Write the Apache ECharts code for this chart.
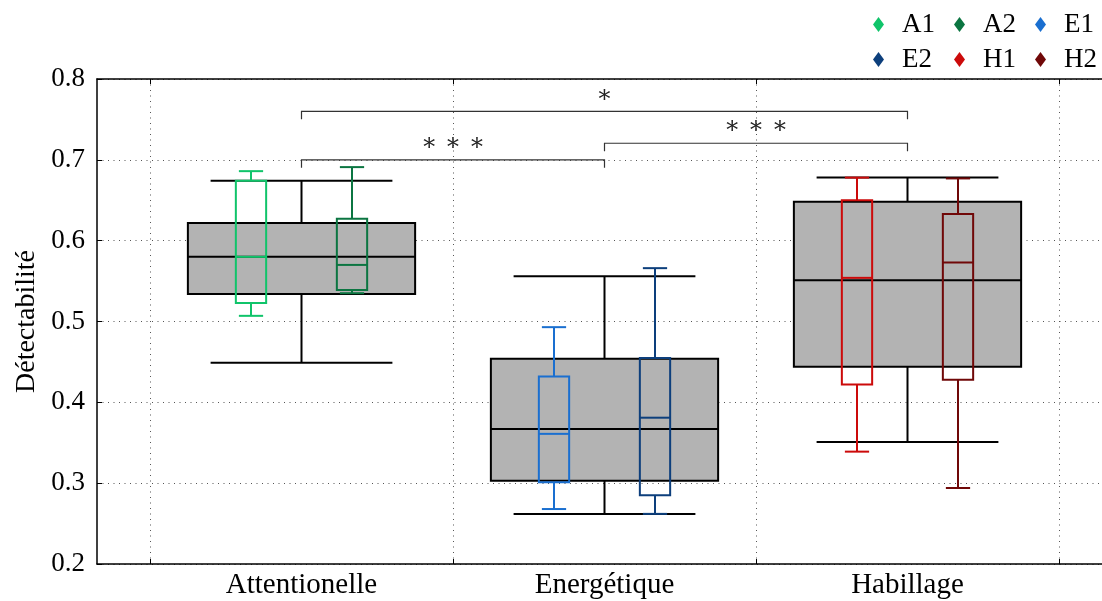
<!DOCTYPE html>
<html><head><meta charset="utf-8">
<script src="https://cdn.jsdelivr.net/npm/echarts@6/dist/echarts.min.js"></script>
<style>html,body{margin:0;padding:0;background:#fff}#c{width:1102px;height:601px}</style>
</head><body><div id="c"></div>
<script>
// ---- data ----
const categories = ['Attentionelle', 'Energétique', 'Habillage'];
// box statistics: [min, Q1, median, Q3, max]
const allStats = [
  [0.449, 0.534, 0.580, 0.622, 0.674],
  [0.262, 0.303, 0.367, 0.454, 0.556],
  [0.351, 0.444, 0.551, 0.648, 0.678]
];
const a1Stats = [0.507, 0.523, 0.580, 0.674, 0.686];
const a2Stats = [0.535, 0.539, 0.570, 0.627, 0.691];
const e1Stats = [0.268, 0.301, 0.361, 0.432, 0.493];
const e2Stats = [0.262, 0.285, 0.381, 0.455, 0.566];
const h1Stats = [0.339, 0.422, 0.554, 0.650, 0.678];
const h2Stats = [0.294, 0.428, 0.573, 0.633, 0.677];
const groupNames = ['A1', 'A2', 'E1', 'E2', 'H1', 'H2'];
const groupStats = [a1Stats, a2Stats, e1Stats, e2Stats, h1Stats, h2Stats];
const groupCategory = [0, 0, 1, 1, 2, 2];
// significance brackets
const bracketFrom = [0, 0, 1];
const bracketTo = [2, 1, 2];
const bracketLevel = [0.760, 0.700, 0.7205];
const bracketLabel = ['∗', '∗ ∗ ∗', '∗ ∗ ∗'];
const yMin = 0.2, yMax = 0.8, yStep = 0.1;

// ---- styles ----
const groupColors = ['#10c46a', '#0b7541', '#1a6fd0', '#0d3f7c', '#cc0a0a', '#700808'];
const groupSide = [-1, 1, -1, 1, -1, 1];
const serif = 'Liberation Serif';

function boxRenderer(offsetFrac, widthFrac, stroke, fill, lw) {
  return function (params, api) {
    const c = api.value(0);
    const band = api.size([1, 0])[0];
    const cx = api.coord([c, yMin])[0] + offsetFrac * band;
    const w = widthFrac * band;
    const y = i => api.coord([c, api.value(i)])[1];
    const ymin = y(1), q1 = y(2), med = y(3), q3 = y(4), ymax = y(5);
    const cap = w * 0.4;
    const st = { stroke: stroke, lineWidth: lw, fill: null };
    const line = (x1, y1, x2, y2) => ({ type: 'line', shape: { x1, y1, x2, y2 }, style: st });
    return {
      type: 'group',
      children: [
        { type: 'rect', shape: { x: cx - w / 2, y: q3, width: w, height: q1 - q3 }, style: { stroke: stroke, lineWidth: lw, fill: fill } },
        line(cx - w / 2, med, cx + w / 2, med),
        line(cx, q3, cx, ymax),
        line(cx, q1, cx, ymin),
        line(cx - cap, ymax, cx + cap, ymax),
        line(cx - cap, ymin, cx + cap, ymin)
      ]
    };
  };
}

const series = [];
series.push({
  name: 'Total', type: 'custom', xAxisIndex: 1, yAxisIndex: 1, z: 2,
  encode: { x: 0, y: [1, 2, 3, 4, 5] },
  data: allStats.map((s, i) => [i].concat(s)),
  itemStyle: { color: '#b3b3b3' },
  renderItem: boxRenderer(0, 0.75, '#000', '#b3b3b3', 2)
});
groupNames.forEach((n, k) => {
  series.push({
    name: n, type: 'custom', xAxisIndex: 1, yAxisIndex: 1, z: 3,
    encode: { x: 0, y: [1, 2, 3, 4, 5] },
    data: [[groupCategory[k]].concat(groupStats[k])],
    itemStyle: { color: groupColors[k] },
    renderItem: boxRenderer(groupSide[k] / 6, 0.1, groupColors[k], 'rgba(0,0,0,0)', 2)
  });
});
series.push({
  name: 'brackets', type: 'custom', xAxisIndex: 1, yAxisIndex: 1, z: 4,
  encode: { x: [0, 1], y: 2 },
  data: bracketFrom.map((f, i) => [f, bracketTo[i], bracketLevel[i], bracketLabel[i]]),
  renderItem: function (params, api) {
    const p1 = api.coord([api.value(0), api.value(2)]);
    const p2 = api.coord([api.value(1), api.value(2)]);
    const st = { stroke: '#333', lineWidth: 1.2, fill: null };
    return {
      type: 'group',
      children: [
        { type: 'polyline', shape: { points: [[p1[0], p1[1] + 8], [p1[0], p1[1]], [p2[0], p2[1]], [p2[0], p2[1] + 8]] }, style: st },
        { type: 'text', x: (p1[0] + p2[0]) / 2, y: p1[1] - 16,
          style: { text: api.value(3), fill: '#222', font: '24px "DejaVu Serif"', align: 'center', verticalAlign: 'middle' } }
      ]
    };
  }
});

const chart = echarts.init(document.getElementById('c'));
chart.setOption({
  animation: false,
  backgroundColor: '#fff',
  textStyle: { fontFamily: serif },
  legend: {
    data: groupNames,
    left: 873, top: 11, width: 240, padding: 0,
    icon: 'diamond', itemWidth: 11, itemHeight: 15, itemGap: 8,
    textStyle: { fontFamily: serif, fontSize: 27, color: '#000', width: 44, padding: [0, 0, 0, 13], lineHeight: 20 }
  },
  grid: [
    { left: 97, right: 0, top: 79, bottom: 37, containLabel: false },
    { left: 150, width: 909, top: 79, bottom: 37, containLabel: false }
  ],
  xAxis: [
    { type: 'value', gridIndex: 0, min: 0, max: 1, position: 'bottom',
      axisLine: { show: true, lineStyle: { color: '#000', width: 1.5 } },
      axisTick: { show: false }, axisLabel: { show: false }, splitLine: { show: false } },
    { type: 'category', gridIndex: 1, data: categories, boundaryGap: true, position: 'bottom',
      axisLine: { show: false },
      axisTick: { show: true, inside: true, length: 5, lineStyle: { color: '#000' } },
      axisLabel: { show: true, fontFamily: serif, fontSize: 29, color: '#000', margin: 7 },
      splitLine: { show: true, lineStyle: { color: '#555', width: 1, type: [1, 4.5] } } },
    { type: 'value', gridIndex: 0, min: 0, max: 1, position: 'top',
      axisLine: { show: true, lineStyle: { color: '#000', width: 1.5 } },
      axisTick: { show: false }, axisLabel: { show: false }, splitLine: { show: false } },
    { type: 'category', gridIndex: 1, data: categories, boundaryGap: true, position: 'top',
      axisLine: { show: false },
      axisTick: { show: true, inside: true, length: 5, lineStyle: { color: '#000' } },
      axisLabel: { show: false }, splitLine: { show: false } }
  ],
  yAxis: [
    { type: 'value', gridIndex: 0, min: yMin, max: yMax, interval: yStep,
      name: 'Détectabilité', nameLocation: 'middle', nameGap: 54,
      nameTextStyle: { fontFamily: serif, fontSize: 28, color: '#000' },
      axisLine: { show: true, lineStyle: { color: '#000', width: 1.5 } },
      axisTick: { show: true, inside: true, length: 5, lineStyle: { color: '#000' } },
      axisLabel: { fontFamily: serif, fontSize: 27, color: '#000', margin: 12, formatter: v => v.toFixed(1) },
      splitLine: { show: true, lineStyle: { color: '#555', width: 1, type: [1, 4.5] } } },
    { type: 'value', gridIndex: 1, min: yMin, max: yMax, interval: yStep, show: false, splitLine: { show: false } }
  ],
  series: series
});
</script></body></html>
